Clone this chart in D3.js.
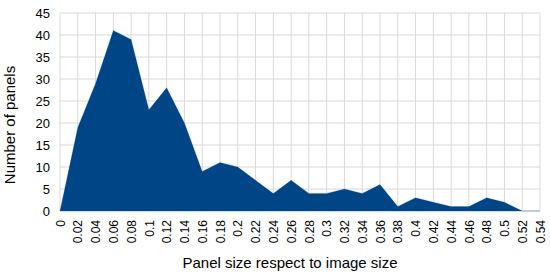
<!DOCTYPE html>
<html>
<head>
<meta charset="utf-8">
<script src="https://cdn.jsdelivr.net/npm/d3@7"></script>
<style>
  body { margin: 0; background: #fff; }
  text { font-family: "Liberation Sans", Arial, sans-serif; fill: #000; }
</style>
</head>
<body>
<svg id="chart"></svg>
<script>
// panel size bins and counts
const sizes = [0, 0.02, 0.04, 0.06, 0.08, 0.1, 0.12, 0.14, 0.16, 0.18, 0.2, 0.22, 0.24, 0.26,
    0.28, 0.3, 0.32, 0.34, 0.36, 0.38, 0.4, 0.42, 0.44, 0.46, 0.48, 0.5, 0.52, 0.54];
const counts = [0, 19, 29, 41, 39, 23, 28, 20, 9, 11, 10, 7, 4, 7,
    4, 4, 5, 4, 6, 1, 3, 2, 1, 1, 3, 2, 0, 0];
const yTicks = [0, 5, 10, 15, 20, 25, 30, 35, 40, 45];

const width = 550;
const height = 275;
const margin = { top: 13, right: 10, bottom: 64, left: 60 };
const innerW = width - margin.left - margin.right;
const innerH = height - margin.top - margin.bottom;

const svg = d3.select("#chart")
    .attr("width", width)
    .attr("height", height);

const g = svg.append("g")
    .attr("transform", `translate(${margin.left},${margin.top})`);

const xScale = d3.scalePoint()
    .domain(sizes)
    .range([0, innerW]);

const yScale = d3.scaleLinear()
    .domain([0, 45])
    .range([innerH, 0]);

// grid lines
g.append("g")
    .selectAll("line")
    .data(yTicks)
    .enter()
    .append("line")
    .attr("x1", 0)
    .attr("x2", innerW)
    .attr("y1", d => yScale(d))
    .attr("y2", d => yScale(d))
    .attr("stroke", "#d9d9d9")
    .attr("stroke-width", 1);

g.append("g")
    .selectAll("line")
    .data(sizes)
    .enter()
    .append("line")
    .attr("x1", d => xScale(d))
    .attr("x2", d => xScale(d))
    .attr("y1", 0)
    .attr("y2", innerH)
    .attr("stroke", "#d9d9d9")
    .attr("stroke-width", 1);

// the area
const area = d3.area()
    .x((d, i) => xScale(sizes[i]))
    .y0(yScale(0))
    .y1(d => yScale(d));

g.append("path")
    .datum(counts)
    .attr("d", area)
    .attr("fill", "#004586")
    .attr("stroke", "#004586")
    .attr("stroke-width", 0.5)
    .attr("stroke-opacity", 0.4);

// y axis labels
const yAxis = g.append("g")
    .call(d3.axisLeft(yScale).tickValues(yTicks).tickSize(0).tickPadding(10));
yAxis.select(".domain").remove();
yAxis.selectAll("text")
    .style("font-size", "13px")
    .style("font-family", "'Liberation Sans', Arial, sans-serif");

// x axis labels
const xAxis = g.append("g")
    .attr("transform", `translate(0,${innerH})`)
    .call(d3.axisBottom(xScale).tickSize(0).tickFormat(d => String(d)));
xAxis.select(".domain").remove();
xAxis.selectAll("text")
    .style("font-size", "12px")
    .style("font-family", "'Liberation Sans', Arial, sans-serif")
    .style("text-anchor", "end")
    .attr("x", -9)
    .attr("y", 0)
    .attr("dy", "0.35em")
    .attr("transform", "rotate(-90)");

// axis titles
svg.append("text")
    .attr("x", 290)
    .attr("y", 268)
    .attr("text-anchor", "middle")
    .style("font-size", "15px")
    .text("Panel size respect to image size");

svg.append("text")
    .attr("transform", `translate(15,125) rotate(-90)`)
    .attr("text-anchor", "middle")
    .style("font-size", "15px")
    .text("Number of panels");
</script>
</body>
</html>
